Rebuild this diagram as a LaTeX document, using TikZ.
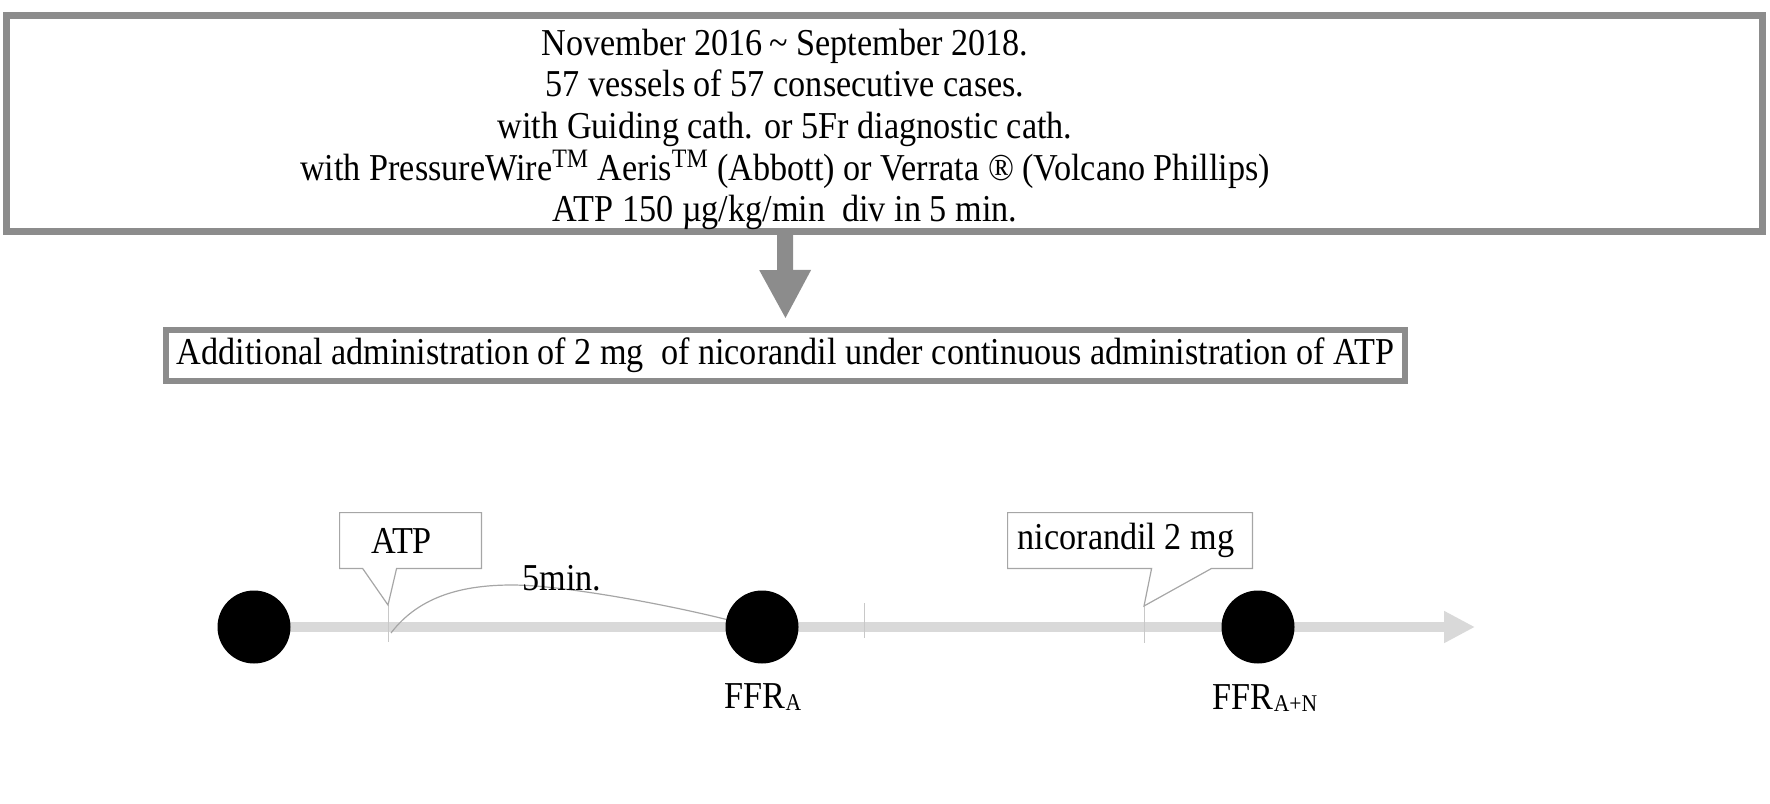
\documentclass[tikz,border=0pt]{standalone}
\usepackage{fontspec}
\setmainfont{Liberation Serif}[FakeStretch=0.9]
\usetikzlibrary{arrows.meta,calc,backgrounds}
\definecolor{boxgray}{HTML}{8C8C8C}
\definecolor{linegray}{HTML}{D9D9D9}
\definecolor{tickgray}{HTML}{C8C8C8}
\definecolor{callgray}{HTML}{A6A6A6}
\newcommand\smallsub[1]{\raisebox{-0.6pt}{\fontsize{12}{12}\selectfont #1}}
\begin{document}
\begin{tikzpicture}[x=0.5pt,y=-0.5pt,
  txt/.style={font=\fontsize{19}{20.85}\selectfont, text=black},
  bigbox/.style={draw=boxgray, line width=3.5pt, inner sep=0pt},
  midbox/.style={draw=boxgray, line width=3pt, inner sep=0pt},
  dot/.style={circle, fill=black, minimum size=36.5pt, inner sep=0pt},
  callline/.style={draw=callgray, line width=0.6pt, line join=miter},
  tickline/.style={draw=tickgray, line width=0.5pt},
  curveline/.style={draw=callgray, line width=0.6pt}]
\useasboundingbox (0,0) rectangle (1770,803);

% top box and text
\node[bigbox, minimum width=878pt, minimum height=108pt] (topbox) at (884.5,123.5) {};
\node[txt, align=center, inner sep=0pt] (toptext) at (785,129.5) {November 2016\,\textasciitilde\ September 2018.\\
57 vessels of 57 consecutive cases.\\
with Guiding cath. or 5Fr diagnostic cath.\\
with PressureWire\textsuperscript{TM} Aeris\textsuperscript{TM} (Abbott) or Verrata ® (Volcano Phillips)\\
ATP 150 µg/kg/min\ \ div in 5 min.};

% second box
\node[midbox, txt, minimum width=619.5pt, minimum height=25.5pt] (midbox) at (785.5,355.5)
  {Additional administration of 2 mg\ \ of nicorandil under continuous administration of ATP};

% down arrow
\draw[boxgray, line width=8pt, -{Triangle[length=24.5pt, width=24pt]}, shorten >=4pt]
  (toptext |- topbox.south) -- (midbox.north);

% timeline dots
\node[dot] (c1) at (254,627) {};
\node[dot] (c2) at (762,627) {};
\node[dot] (c3) at (1258,627) {};
\coordinate (tlend) at (1475,627);

\begin{scope}[on background layer]
\draw[linegray, line width=5.2pt, -{Triangle[length=15.5pt, width=15pt]}] (c1.center) -- (tlend);
\end{scope}

% ticks
\coordinate (t1top) at (388,605);
\coordinate (t1bot) at (388,642);
\coordinate (t2top) at (864,603);
\coordinate (t2bot) at (864,638);
\coordinate (t3top) at (1144,606);
\coordinate (t3bot) at (1144,643);
\draw[tickline] (t1top) -- (t1bot);
\draw[tickline] (t2top) -- (t2bot);
\draw[tickline] (t3top) -- (t3bot);

% ATP callout
\node[txt, minimum width=70.5pt, minimum height=27.5pt, inner sep=0pt] (atp) at (410.5,540.5) {\kern-9pt ATP};
\draw[callline] (atp.north west) -- (atp.north east) -- (atp.south east)
  -- ($(atp.south west)+(57,0)$) -- (t1top) -- ($(atp.south west)+(23,0)$) -- (atp.south west) -- cycle;

% nicorandil callout
\node[txt, minimum width=122pt, minimum height=27.5pt, inner sep=0pt] (nico) at (1130,540.5) {\kern-4pt nicorandil 2 mg};
\draw[callline] (nico.north west) -- (nico.north east) -- (nico.south east)
  -- ($(nico.south west)+(204,0)$) -- (t3top) -- ($(nico.south west)+(144,0)$) -- (nico.south west) -- cycle;

% 5 min curve
\coordinate (cstart) at (391,633);
\draw[curveline] (cstart) .. controls (420,595) and (465,585) .. (512,585)
  .. controls (560,585) and (660,603) .. (c2.168);
\node[txt] (fivemin) at (562,578) {5min.};

% labels
\node[txt] (ffra) at (763,697) {FFR\smallsub{A}};
\node[txt] (ffran) at (1265,698) {FFR\smallsub{A+N}};
\end{tikzpicture}
\end{document}
